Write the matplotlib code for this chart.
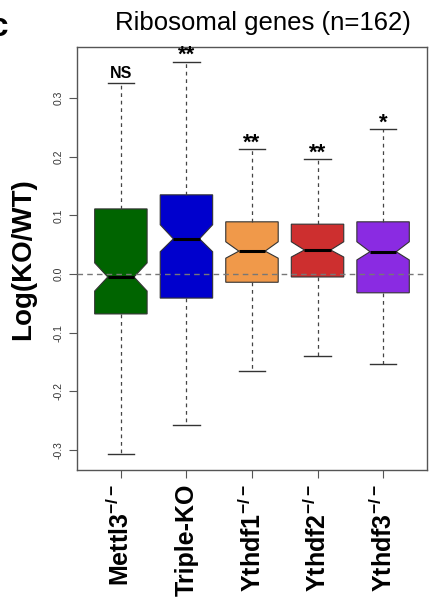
import numpy as np
import matplotlib
matplotlib.use("Agg")
import matplotlib.pyplot as plt

matplotlib.rcParams['font.family'] = ['Liberation Sans', 'DejaVu Sans']
matplotlib.rcParams['mathtext.fontset'] = 'custom'
matplotlib.rcParams['mathtext.rm'] = 'Liberation Sans'
matplotlib.rcParams['mathtext.bf'] = 'Liberation Sans:bold'

groups = [r'Mettl3$^{\mathregular{-/-}}$', 'Triple-KO', r'Ythdf1$^{\mathregular{-/-}}$',
          r'Ythdf2$^{\mathregular{-/-}}$', r'Ythdf3$^{\mathregular{-/-}}$']
whislo = [-0.307, -0.258, -0.166, -0.140, -0.154]
q1     = [-0.068, -0.041, -0.014, -0.005, -0.032]
med    = [-0.005, 0.060, 0.039, 0.041, 0.038]
q3     = [0.111, 0.135, 0.089, 0.085, 0.089]
whishi = [0.326, 0.362, 0.213, 0.196, 0.247]
cilo   = [-0.029, 0.038, 0.027, 0.029, 0.024]
cihi   = [0.019, 0.084, 0.055, 0.055, 0.055]
signif = ['NS', '**', '**', '**', '*']
colors = ['#006400', '#0000CD', '#F0994A', '#CD2F2F', '#8A2BE2']

stats = []
for i in range(len(groups)):
    stats.append(dict(whislo=whislo[i], q1=q1[i], med=med[i], q3=q3[i],
                      whishi=whishi[i], cilo=cilo[i], cihi=cihi[i], fliers=[]))

fig = plt.figure(figsize=(4.3, 6.1), dpi=100)
ax = fig.add_axes([0.179, 0.2295, 0.814, 0.6935])

pos = np.arange(1, len(groups) + 1)
bp = ax.bxp(stats, positions=pos, widths=0.8, shownotches=True, patch_artist=True,
            showfliers=False,
            boxprops=dict(linewidth=0.8, edgecolor='#333333'),
            medianprops=dict(color='black', linewidth=2.2),
            whiskerprops=dict(color='#444444', linewidth=0.9, linestyle=(0, (3, 3))),
            capprops=dict(color='#333333', linewidth=1.0))
for patch, c in zip(bp['boxes'], colors):
    patch.set_facecolor(c)

ax.axhline(0, color='#777777', linestyle=(0, (4, 3)), linewidth=1.0, zorder=3)

for p, hi, s in zip(pos, whishi, signif):
    if s == 'NS':
        ax.text(p, hi + 0.008, s, ha='center', va='baseline', fontsize=11.5, fontweight='bold')
    else:
        ax.text(p, hi + 0.001, s, ha='center', va='baseline', fontsize=16, fontweight='bold')

ax.set_xlim(0.33, 5.67)
ax.set_ylim(-0.334, 0.387)
ax.set_yticks([-0.3, -0.2, -0.1, 0.0, 0.1, 0.2, 0.3])
ax.set_yticklabels(['-0.3', '-0.2', '-0.1', '0.0', '0.1', '0.2', '0.3'],
                   rotation=90, va='center', fontsize=7.5, color='#333333')
ax.set_xticks(pos)
ax.set_xticklabels(groups, rotation=90, fontsize=18, fontweight='bold', va='top')
ax.tick_params(axis='both', direction='out', length=6, width=0.8, color='#555555')
ax.tick_params(axis='x', pad=4)
for sp in ax.spines.values():
    sp.set_color('#555555')
    sp.set_linewidth(1.0)

fig.text(0.053, 0.575, 'Log(KO/WT)', rotation=90, ha='center', va='center',
         fontsize=20, fontweight='bold')
fig.text(0.612, 0.962, 'Ribosomal genes (n=162)', ha='center', va='center', fontsize=18.5)
fig.text(-0.023, 0.955, 'c', ha='left', va='center', fontsize=24, fontweight='bold')

fig.savefig('out.png', dpi=100)
